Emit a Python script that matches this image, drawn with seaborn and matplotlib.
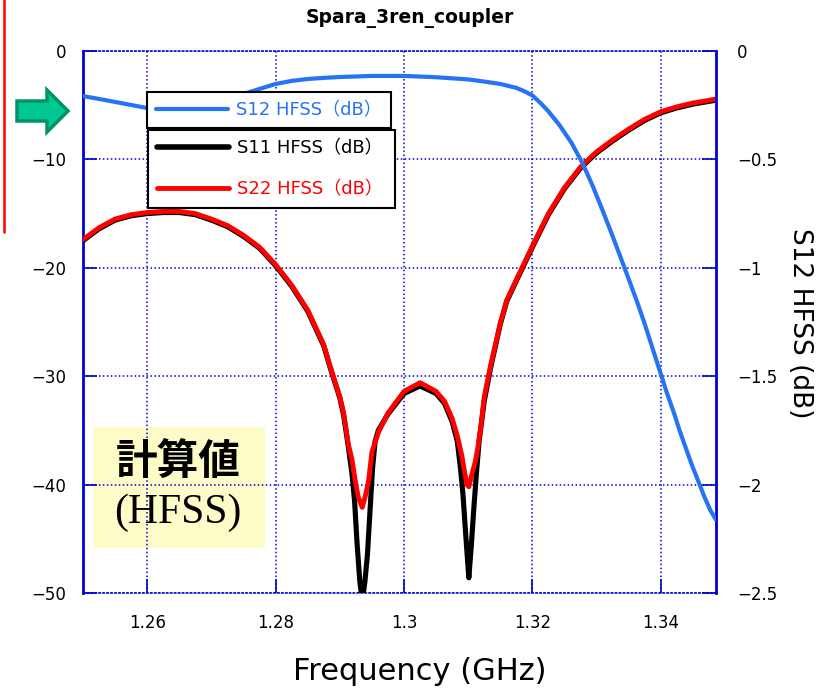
import matplotlib
matplotlib.use("Agg")
import matplotlib.pyplot as plt
import seaborn as sns
import pandas as pd
from matplotlib.patches import Rectangle, Polygon
from matplotlib.lines import Line2D

# ---------------- data ----------------
freq_s12 = [1.25, 1.2525, 1.255, 1.2575, 1.26, 1.2625, 1.265, 1.2675, 1.27, 1.2725,
            1.275, 1.2775, 1.28, 1.2825, 1.285, 1.2875, 1.29, 1.295, 1.30, 1.305,
            1.31, 1.3125, 1.315, 1.3175, 1.3187, 1.32, 1.3212, 1.3224, 1.3242, 1.3261,
            1.3278, 1.3294, 1.3309, 1.3323, 1.3336, 1.335, 1.3362, 1.3375, 1.3387, 1.3398,
            1.3409, 1.342, 1.3429, 1.344, 1.3449, 1.3459, 1.3468, 1.3477, 1.3486]
s12_db = [-0.208, -0.221, -0.235, -0.249, -0.263, -0.268, -0.270, -0.262, -0.245, -0.222,
          -0.198, -0.175, -0.152, -0.138, -0.129, -0.124, -0.120, -0.115, -0.115, -0.121,
          -0.131, -0.141, -0.152, -0.170, -0.185, -0.205, -0.238, -0.275, -0.341, -0.424,
          -0.517, -0.623, -0.733, -0.839, -0.941, -1.052, -1.148, -1.259, -1.370, -1.471,
          -1.573, -1.665, -1.748, -1.840, -1.914, -1.988, -2.057, -2.117, -2.163]

freq_s22 = [1.25, 1.2525, 1.255, 1.2575, 1.26, 1.2625, 1.265, 1.2675, 1.27, 1.2725,
            1.275, 1.2775, 1.28, 1.2825, 1.285, 1.2875, 1.2885, 1.29, 1.2906, 1.2913,
            1.2919, 1.2925, 1.2929, 1.2935, 1.2940, 1.2945, 1.2950, 1.2960, 1.2975, 1.30,
            1.3025, 1.305, 1.3063, 1.3075, 1.3083, 1.309, 1.3094, 1.3098, 1.3101, 1.3106,
            1.3111, 1.3115, 1.3120, 1.3125, 1.3135, 1.315, 1.316, 1.3175, 1.32, 1.3225,
            1.325, 1.3275, 1.33, 1.3325, 1.335, 1.3375, 1.34, 1.3425, 1.345, 1.3475,
            1.3486]
s22_db = [-17.4, -16.3, -15.5, -15.1, -14.9, -14.8, -14.8, -15.0, -15.5, -16.1,
          -17.0, -18.1, -19.7, -21.6, -23.9, -27.1, -29.1, -31.9, -33.4, -36.2,
          -37.7, -40.0, -41.2, -42.1, -41.0, -39.6, -37.0, -35.2, -33.4, -31.4,
          -30.6, -31.4, -32.3, -33.9, -35.5, -37.3, -38.7, -40.0, -40.2, -39.0,
          -37.9, -36.6, -34.5, -31.9, -29.0, -25.1, -23.0, -21.1, -18.0, -15.0,
          -12.6, -10.7, -9.3, -8.2, -7.2, -6.3, -5.6, -5.15, -4.8, -4.55,
          -4.43]

freq_s11 = [1.25, 1.2525, 1.255, 1.2575, 1.26, 1.2625, 1.265, 1.2675, 1.27, 1.2725,
            1.275, 1.2775, 1.28, 1.2825, 1.285, 1.2875, 1.2885, 1.29, 1.2906, 1.2913,
            1.2919, 1.2923, 1.2927, 1.2931, 1.2935, 1.2939, 1.2943, 1.2947, 1.2951, 1.2955,
            1.2960, 1.2975, 1.30, 1.3025, 1.305, 1.3063, 1.3075, 1.3083, 1.3088, 1.3092,
            1.3096, 1.3101, 1.3105, 1.3109, 1.3113, 1.3117, 1.3125, 1.3135, 1.315, 1.316,
            1.3175, 1.32, 1.3225, 1.325, 1.3275, 1.33, 1.3325, 1.335, 1.3375, 1.34,
            1.3425, 1.345, 1.3475, 1.3486]
s11_db = [-17.5, -16.4, -15.6, -15.2, -15.0, -14.9, -14.9, -15.1, -15.6, -16.2,
          -17.1, -18.2, -19.8, -21.7, -24.0, -27.2, -29.2, -32.0, -33.6, -36.4,
          -39.0, -41.5, -45.5, -48.8, -50.8, -49.0, -46.5, -42.5, -38.5, -36.0,
          -35.0, -33.5, -31.6, -30.9, -31.6, -32.5, -34.2, -36.0, -38.5, -41.0,
          -44.5, -48.6, -45.5, -42.0, -38.8, -36.0, -32.3, -29.2, -25.2, -23.1,
          -21.2, -18.1, -15.1, -12.7, -10.8, -9.4, -8.3, -7.3, -6.4, -5.7,
          -5.25, -4.9, -4.65, -4.53]

x_ticks = [1.26, 1.28, 1.30, 1.32, 1.34]
x_tick_labels = ["1.26", "1.28", "1.3", "1.32", "1.34"]
left_ticks = [0, -10, -20, -30, -40, -50]
left_tick_labels = ["0", "\u221210", "\u221220", "\u221230", "\u221240", "\u221250"]
right_ticks = [0, -0.5, -1, -1.5, -2, -2.5]
right_tick_labels = ["0", "\u22120.5", "\u22121", "\u22121.5", "\u22122", "\u22122.5"]

label_s12 = "S12 HFSS\uff08dB\uff09"
label_s11 = "S11 HFSS\uff08dB\uff09"
label_s22 = "S22 HFSS\uff08dB\uff09"

BLUE = "#2673F4"
AXBLUE = "#0000cc"

df12 = pd.DataFrame({"freq": freq_s12, "db": s12_db})
df11 = pd.DataFrame({"freq": freq_s11, "db": s11_db})
df22 = pd.DataFrame({"freq": freq_s22, "db": s22_db})

# ---------------- figure ----------------
sns.set_theme(style="white")
plt.rcParams["font.family"] = ["DejaVu Sans", "Noto Sans CJK JP"]

W, H = 831, 691
fig = plt.figure(figsize=(W / 100, H / 100), dpi=100)
ax = fig.add_axes([83 / W, 1 - 593 / H, 633 / W, 542 / H])
ax2 = ax.twinx()

sns.lineplot(data=df11, x="freq", y="db", ax=ax, color="black", lw=3.7,
             sort=False, estimator=None, legend=False, zorder=3)
sns.lineplot(data=df22, x="freq", y="db", ax=ax, color="#ff0000", lw=3.5,
             sort=False, estimator=None, legend=False, zorder=4)
sns.lineplot(data=df12, x="freq", y="db", ax=ax2, color=BLUE, lw=3.0,
             sort=False, estimator=None, legend=False, zorder=4)

ax.set_xlim(1.25, 1.3486)
ax.set_ylim(-50, 0)
ax2.set_ylim(-2.5, 0)

ax.set_xticks(x_ticks)
ax.set_xticklabels(x_tick_labels)
ax.set_yticks(left_ticks)
ax.set_yticklabels(left_tick_labels)
ax2.set_yticks(right_ticks)
ax2.set_yticklabels(right_tick_labels)
ax.set_xlabel("")
ax.set_ylabel("")
ax2.set_ylabel("")

ax.set_axisbelow(True)
ax.grid(True, color=AXBLUE, linestyle=(0, (1, 1.6)), linewidth=1.1)
ax2.grid(False)

for s in ["top", "bottom"]:
    ax.spines[s].set_color(AXBLUE)
    ax.spines[s].set_linestyle((0, (1, 1.6)))
    ax.spines[s].set_linewidth(1.1)
ax.spines["left"].set_color("#0000dd")
ax.spines["left"].set_linewidth(2)
ax.spines["right"].set_visible(False)
for s in ["left", "top", "bottom"]:
    ax2.spines[s].set_visible(False)
ax2.spines["right"].set_color("#0000dd")
ax2.spines["right"].set_linewidth(2)

ax.tick_params(axis="both", direction="in", length=10, width=1.2, color=AXBLUE,
               labelsize=12, labelcolor="black", bottom=True, left=True,
               top=False, right=False)
ax.tick_params(axis="y", pad=12)
ax.tick_params(axis="x", pad=15)
ax2.tick_params(axis="y", direction="in", length=10, width=1.2, color=AXBLUE,
                labelsize=12, labelcolor="black", right=True, left=False, pad=15)

# annotation box
ax.add_patch(Rectangle((10 / 633, 45 / 542), 172 / 633, 121 / 542,
                       transform=ax.transAxes, facecolor="#fdfcc8",
                       edgecolor="none", zorder=0.3))
ax.text(95 / 633, 131 / 542, "計算値", transform=ax.transAxes, ha="center",
        va="center", fontsize=30, fontweight="bold", family=["Noto Sans CJK JP"],
        color="black", zorder=5)
ax.text(95 / 633, 80 / 542, "(HFSS)", transform=ax.transAxes, ha="center",
        va="center", fontsize=30, family=["Liberation Serif"], color="black", zorder=5)

# legends
h12 = Line2D([], [], color=BLUE, lw=3.0)
h11 = Line2D([], [], color="black", lw=4.0)
h22 = Line2D([], [], color="#ff0000", lw=3.5)

leg1 = fig.legend([h12], [label_s12], loc="upper left",
                  bbox_to_anchor=(147 / W, 1 - 128 / H, 244 / W, 36 / H),
                  mode="expand", borderaxespad=0, fancybox=False, edgecolor="black",
                  framealpha=1, fontsize=13, handlelength=4.0, handletextpad=0.45,
                  borderpad=0.5)
leg1.get_frame().set_linewidth(1.5)
for t in leg1.get_texts():
    t.set_color(BLUE)

leg2 = fig.legend([h11, h22], [label_s11, label_s22], loc="upper left",
                  bbox_to_anchor=(148 / W, 1 - 207 / H, 247 / W, 77 / H),
                  mode="expand", borderaxespad=0, fancybox=False, edgecolor="black",
                  framealpha=1, fontsize=13, handlelength=4.0, handletextpad=0.45,
                  borderpad=0.5, labelspacing=1.3)
leg2.get_frame().set_linewidth(1.5)
leg2.get_texts()[0].set_color("black")
leg2.get_texts()[1].set_color("#ff0000")

# texts
fig.text(410 / W, 1 - 18 / H, "Spara_3ren_coupler", ha="center", va="center",
         fontsize=13.5, fontweight="bold", color="black")
fig.text(420 / W, 1 - 672 / H, "Frequency (GHz)", ha="center", va="center",
         fontsize=22, color="black")
fig.text(800 / W, 1 - 323 / H, "S12 HFSS (dB)", ha="center", va="center",
         rotation=270, fontsize=19, color="black")

# decorations: green arrow and red line at left
arrow_px = [(17, 101), (47, 101), (47, 90), (68, 111), (47, 132), (47, 121), (17, 121)]
fig.add_artist(Polygon([(x / W, 1 - y / H) for x, y in arrow_px], closed=True,
                       transform=fig.transFigure, facecolor="#00c890",
                       edgecolor="#00936a", linewidth=2.5))
fig.add_artist(Line2D([4 / W, 4 / W], [1, 1 - 232 / H], color="#ff0000", lw=1.8,
                      transform=fig.transFigure))

fig.savefig("out.png", dpi=100)
